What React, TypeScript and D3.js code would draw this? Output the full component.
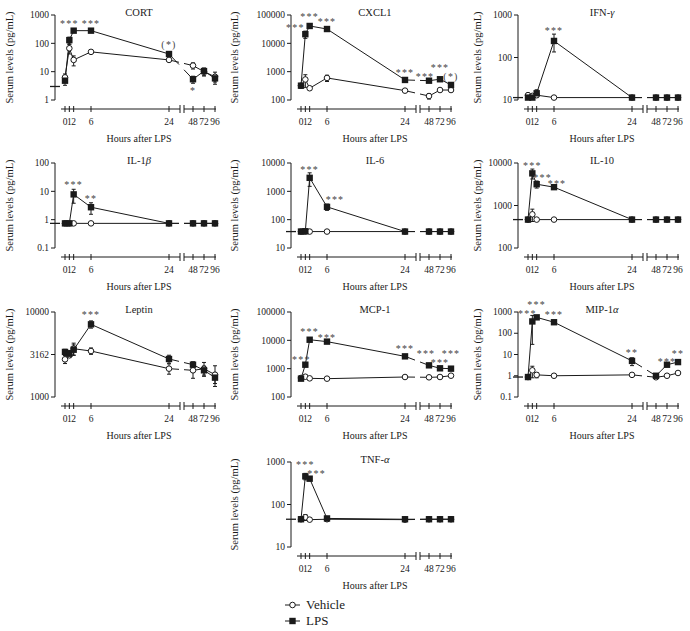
import * as d3 from "d3";

const hours = [0, 1, 2, 6, 24, 48, 72, 96];
const hourLabels = ["0", "1", "2", "6", "24", "48", "72", "96"];

type Star = { h: number; t: string; v: number; dx?: number };

// CORT
const cortLps = [4.8, 130, 280, 280, 42, 5.4, 10.5, 5.8];
const cortLpsErr = [1.5, 35, 0, 0, 8, 1.5, 3, 1.5];
const cortVeh = [6.3, 67, 26, 50, 26, 16.4, 10, 6.6];
const cortVehErr = [2, 25, 10, 0, 0, 4, 3, 3];
const cortStars: Star[] = [
  { h: 1, t: "***", v: 560 },
  { h: 6, t: "***", v: 560 },
  { h: 24, t: "(*)", v: 103 },
  { h: 48, t: "*", v: 2.5 },
];

// CXCL1
const cxclLps = [320, 21000, 41000, 32000, 510, 480, 540, 340];
const cxclLpsErr = [60, 6000, 0, 0, 0, 0, 0, 40];
const cxclVeh = [320, 530, 260, 600, 214, 138, 225, 225];
const cxclVehErr = [0, 250, 0, 150, 0, 30, 0, 0];
const cxclStars: Star[] = [
  { h: 1, t: "***", v: 41000, dx: -10 },
  { h: 2, t: "***", v: 100000 },
  { h: 6, t: "***", v: 66000 },
  { h: 24, t: "***", v: 1070 },
  { h: 48, t: "***", v: 760, dx: -4 },
  { h: 72, t: "***", v: 1620 },
  { h: 96, t: "(*)", v: 760 },
];

// IFN-gamma
const ifnLps = [11.4, 11.4, 14.4, 245, 11.4, 11.4, 11.4, 11.4];
const ifnLpsErr = [0, 0, 3, 110, 0, 0, 0, 0];
const ifnVeh = [13, 12.5, 13, 11.4, 11.4, 11.4, 11.4, 11.4];
const ifnVehErr = [1.5, 0, 0, 0, 0, 0, 0, 0];
const ifnStars: Star[] = [{ h: 6, t: "***", v: 470 }];

// IL-1beta
const il1Lps = [0.74, 0.74, 7.8, 2.75, 0.74, 0.74, 0.74, 0.74];
const il1LpsErr = [0, 0, 4, 1.2, 0, 0, 0, 0];
const il1Veh = [0.74, 0.74, 0.74, 0.74, 0.74, 0.74, 0.74, 0.74];
const il1VehErr = [0, 0, 0, 0, 0, 0, 0, 0];
const il1Stars: Star[] = [
  { h: 2, t: "***", v: 19 },
  { h: 6, t: "**", v: 6.2 },
];

// IL-6
const il6Lps = [38, 39, 3000, 283, 38, 38, 38, 38];
const il6LpsErr = [0, 0, 1500, 70, 0, 0, 0, 0];
const il6Veh = [38, 38, 38, 38, 38, 38, 38, 38];
const il6VehErr = [0, 0, 0, 0, 0, 0, 0, 0];
const il6Stars: Star[] = [
  { h: 2, t: "***", v: 6500 },
  { h: 6, t: "***", v: 565, dx: 8 },
];

// IL-10
const il10Lps = [466, 5700, 3170, 2700, 466, 466, 466, 466];
const il10LpsErr = [0, 1500, 600, 300, 0, 0, 0, 0];
const il10Veh = [466, 620, 466, 466, 466, 466, 466, 466];
const il10VehErr = [0, 200, 0, 0, 0, 0, 0, 0];
const il10Stars: Star[] = [
  { h: 1, t: "***", v: 9500 },
  { h: 2, t: "***", v: 5020, dx: 6 },
  { h: 6, t: "***", v: 3500, dx: 3 },
];

// Leptin
const lepLps = [3390, 3230, 3600, 7160, 2800, 2400, 2060, 1690];
const lepLpsErr = [250, 300, 500, 700, 300, 200, 250, 250];
const lepVeh = [2775, 3100, 3700, 3475, 2155, 2060, 2150, 1830];
const lepVehErr = [300, 200, 600, 300, 300, 400, 400, 500];
const lepStars: Star[] = [{ h: 6, t: "***", v: 9660 }];

// MCP-1
const mcpLps = [444, 1380, 10500, 9000, 2720, 1310, 1030, 1000];
const mcpLpsErr = [0, 200, 0, 0, 0, 150, 0, 0];
const mcpVeh = [470, 520, 455, 444, 508, 495, 508, 565];
const mcpVehErr = [0, 0, 0, 0, 0, 0, 0, 0];
const mcpStars: Star[] = [
  { h: 1, t: "***", v: 2330, dx: -4 },
  { h: 2, t: "***", v: 23000 },
  { h: 6, t: "***", v: 14200 },
  { h: 24, t: "***", v: 6000 },
  { h: 48, t: "***", v: 4000, dx: -3 },
  { h: 72, t: "***", v: 1860 },
  { h: 96, t: "***", v: 4000 },
];

// MIP-1alpha
const mipLps = [0.87, 360, 560, 330, 5, 1.0, 3.3, 4.4];
const mipLpsErr = [0, 330, 0, 0, 2, 0, 0.5, 1];
const mipVeh = [0.87, 1.8, 1.1, 1.0, 1.1, 0.85, 1.0, 1.35];
const mipVehErr = [0, 1, 0.3, 0, 0, 0, 0, 0];
const mipStars: Star[] = [
  { h: 1, t: "***", v: 985, dx: -5 },
  { h: 2, t: "***", v: 2570 },
  { h: 6, t: "***", v: 870 },
  { h: 24, t: "**", v: 14.6 },
  { h: 72, t: "***", v: 5.5 },
  { h: 96, t: "**", v: 13.5 },
];

// TNF-alpha
const tnfLps = [45, 460, 405, 47, 45, 45, 45, 45];
const tnfLpsErr = [0, 80, 40, 5, 0, 0, 0, 0];
const tnfVeh = [45, 50, 44, 45, 44, 45, 45, 45];
const tnfVehErr = [0, 8, 0, 0, 0, 0, 0, 0];
const tnfStars: Star[] = [
  { h: 1, t: "***", v: 930 },
  { h: 2, t: "***", v: 590, dx: 7 },
];

const legendLabels = ["Vehicle", "LPS"];

type PanelDef = {
  name: string;
  greek?: string;
  col: number;
  row: number;
  domain: [number, number];
  ticks: number[];
  lod?: number;
  lps: number[];
  lpsErr: number[];
  veh: number[];
  vehErr: number[];
  stars: Star[];
};

const panels: PanelDef[] = [
  { name: "CORT", col: 0, row: 0, domain: [1, 1000], ticks: [1, 10, 100, 1000], lod: 3, lps: cortLps, lpsErr: cortLpsErr, veh: cortVeh, vehErr: cortVehErr, stars: cortStars },
  { name: "CXCL1", col: 1, row: 0, domain: [100, 100000], ticks: [100, 1000, 10000, 100000], lps: cxclLps, lpsErr: cxclLpsErr, veh: cxclVeh, vehErr: cxclVehErr, stars: cxclStars },
  { name: "IFN-", greek: "γ", col: 2, row: 0, domain: [10, 1000], ticks: [10, 100, 1000], lod: 11.4, lps: ifnLps, lpsErr: ifnLpsErr, veh: ifnVeh, vehErr: ifnVehErr, stars: ifnStars },
  { name: "IL-1", greek: "β", col: 0, row: 1, domain: [0.1, 100], ticks: [0.1, 1, 10, 100], lod: 0.74, lps: il1Lps, lpsErr: il1LpsErr, veh: il1Veh, vehErr: il1VehErr, stars: il1Stars },
  { name: "IL-6", col: 1, row: 1, domain: [10, 10000], ticks: [10, 100, 1000, 10000], lod: 38, lps: il6Lps, lpsErr: il6LpsErr, veh: il6Veh, vehErr: il6VehErr, stars: il6Stars },
  { name: "IL-10", col: 2, row: 1, domain: [100, 10000], ticks: [100, 1000, 10000], lod: 466, lps: il10Lps, lpsErr: il10LpsErr, veh: il10Veh, vehErr: il10VehErr, stars: il10Stars },
  { name: "Leptin", col: 0, row: 2, domain: [1000, 10000], ticks: [1000, 3162, 10000], lps: lepLps, lpsErr: lepLpsErr, veh: lepVeh, vehErr: lepVehErr, stars: lepStars },
  { name: "MCP-1", col: 1, row: 2, domain: [100, 100000], ticks: [100, 1000, 10000, 100000], lps: mcpLps, lpsErr: mcpLpsErr, veh: mcpVeh, vehErr: mcpVehErr, stars: mcpStars },
  { name: "MIP-1", greek: "α", col: 2, row: 2, domain: [0.1, 1000], ticks: [0.1, 1, 10, 100, 1000], lod: 0.87, lps: mipLps, lpsErr: mipLpsErr, veh: mipVeh, vehErr: mipVehErr, stars: mipStars },
  { name: "TNF-", greek: "α", col: 1, row: 3, domain: [10, 1000], ticks: [10, 100, 1000], lod: 45, lps: tnfLps, lpsErr: tnfLpsErr, veh: tnfVeh, vehErr: tnfVehErr, stars: tnfStars },
];

// layout
const COLS = [65, 301, 528];
const ROWS = [15, 163, 312, 462];
const YLAB_X = [13, 238, 481];
const PH = 85;
const INK = "#1a1a1a";
const FONT = "'Liberation Serif', 'Times New Roman', serif";

function Panel({ p }: { p: PanelDef }) {
  const x0 = COLS[p.col];
  const top = ROWS[p.row];
  const bottom = top + PH;
  const x = d3.scaleLinear().domain([0, 24, 48, 96]).range([x0, x0 + 104, x0 + 128, x0 + 150]);
  const y = d3.scaleLog().domain(p.domain).range([bottom, top]);
  const axX = x0 - 10;
  const axY = bottom + 9;
  const gL = x0 + 114;
  const gR = x0 + 119;
  const line = d3.line();

  // line through the points, cut where the x axis is broken
  const paths = (vals: number[]) => {
    const pts = hours.map((h, i) => [x(h), y(vals[i])] as [number, number]);
    const i24 = hours.indexOf(24);
    const [xa, ya] = pts[i24];
    const [xb, yb] = pts[i24 + 1];
    const yAt = (xx: number) => ya + ((yb - ya) * (xx - xa)) / (xb - xa);
    const a: [number, number][] = [...pts.slice(0, i24 + 1), [gL, yAt(gL)]];
    const b: [number, number][] = [[gR, yAt(gR)], ...pts.slice(i24 + 1)];
    return [line(a) as string, line(b) as string];
  };

  const errBars = (vals: number[], errs: number[], key: string) =>
    hours.map((h, i) => {
      const e = errs[i];
      if (!e) return null;
      const lo = y(Math.max(vals[i] - e, vals[i] * 0.05));
      const hi = y(vals[i] + e);
      const cx = x(h);
      return (
        <g key={key + i}>
          <line x1={cx} x2={cx} y1={lo} y2={hi} stroke={INK} strokeWidth={1} />
          <line x1={cx - 2} x2={cx + 2} y1={lo} y2={lo} stroke={INK} strokeWidth={1} />
          <line x1={cx - 2} x2={cx + 2} y1={hi} y2={hi} stroke={INK} strokeWidth={1} />
        </g>
      );
    });

  return (
    <g fontFamily={FONT} fill={INK}>
      <text x={x0 + 74} y={top + 0.5} textAnchor="middle" fontSize={10.5}>
        {p.name}
        {p.greek && <tspan fontStyle="italic">{p.greek}</tspan>}
      </text>
      {/* y axis */}
      <line x1={axX} x2={axX} y1={top} y2={bottom} stroke={INK} strokeWidth={1} />
      {p.ticks.map((t) => (
        <g key={t}>
          <line x1={axX - 4} x2={axX} y1={y(t)} y2={y(t)} stroke={INK} strokeWidth={1} />
          <text x={axX - 6} y={y(t) + 3.2} textAnchor="end" fontSize={9.5}>
            {String(t)}
          </text>
        </g>
      ))}
      {p.lod !== undefined && (
        <line x1={axX - 5} x2={axX + 5} y1={y(p.lod)} y2={y(p.lod)} stroke={INK} strokeWidth={1.3} />
      )}
      <text
        transform={`translate(${YLAB_X[p.col]},${(top + bottom) / 2}) rotate(-90)`}
        textAnchor="middle"
        fontSize={10.5}
      >
        Serum levels (pg/mL)
      </text>
      {/* x axis */}
      <line x1={x0 - 4} x2={x0 + 115} y1={axY} y2={axY} stroke={INK} strokeWidth={1} />
      <line x1={x0 + 119} x2={x0 + 151} y1={axY} y2={axY} stroke={INK} strokeWidth={1} />
      <line x1={x0 + 115} x2={x0 + 115} y1={axY - 4} y2={axY + 4} stroke={INK} strokeWidth={1} />
      <line x1={x0 + 119} x2={x0 + 119} y1={axY - 4} y2={axY + 4} stroke={INK} strokeWidth={1} />
      {hours.map((h, i) => (
        <g key={"xt" + h}>
          <line x1={x(h)} x2={x(h)} y1={axY - 3} y2={axY + 3} stroke={INK} strokeWidth={1} />
          <text x={x(h)} y={axY + 16} textAnchor="middle" fontSize={9.5}>
            {hourLabels[i]}
          </text>
        </g>
      ))}
      <text x={x0 + 74} y={axY + 33} textAnchor="middle" fontSize={10}>
        Hours after LPS
      </text>
      {/* series */}
      {paths(p.veh).map((d, i) => (
        <path key={"vl" + i} d={d} fill="none" stroke={INK} strokeWidth={1} />
      ))}
      {paths(p.lps).map((d, i) => (
        <path key={"ll" + i} d={d} fill="none" stroke={INK} strokeWidth={1} />
      ))}
      {errBars(p.veh, p.vehErr, "ve")}
      {errBars(p.lps, p.lpsErr, "le")}
      {hours.map((h, i) => (
        <circle key={"vc" + h} cx={x(h)} cy={y(p.veh[i])} r={2.8} fill="#fff" stroke={INK} strokeWidth={1} />
      ))}
      {hours.map((h, i) => (
        <rect key={"ls" + h} x={x(h) - 3.2} y={y(p.lps[i]) - 3.2} width={6.4} height={6.4} fill={INK} />
      ))}
      {p.stars.map((s, i) => (
        <text
          key={"st" + i}
          x={x(s.h) + (s.dx || 0)}
          y={y(s.v) + 5}
          textAnchor="middle"
          fontSize={10}
          fill="#444"
          letterSpacing={1.2}
        >
          {s.t}
        </text>
      ))}
    </g>
  );
}

export default function App() {
  return (
    <svg
      width={690}
      height={631}
      style={{ position: "absolute", left: 0, top: 0, background: "#fff" }}
    >
      <rect width={690} height={631} fill="#fff" />
      {panels.map((p) => (
        <Panel key={p.name + (p.greek || "")} p={p} />
      ))}
      {legendLabels.map((lab, i) => {
        const ly = 605 + i * 16;
        return (
          <g key={lab} fontFamily={FONT} fill={INK}>
            <line x1={285} x2={300} y1={ly} y2={ly} stroke={INK} strokeWidth={1} />
            {i === 0 ? (
              <circle cx={292.5} cy={ly} r={2.8} fill="#fff" stroke={INK} strokeWidth={1} />
            ) : (
              <rect x={289.3} y={ly - 3.2} width={6.4} height={6.4} fill={INK} />
            )}
            <text x={306} y={ly + 4} fontSize={13}>
              {lab}
            </text>
          </g>
        );
      })}
    </svg>
  );
}
